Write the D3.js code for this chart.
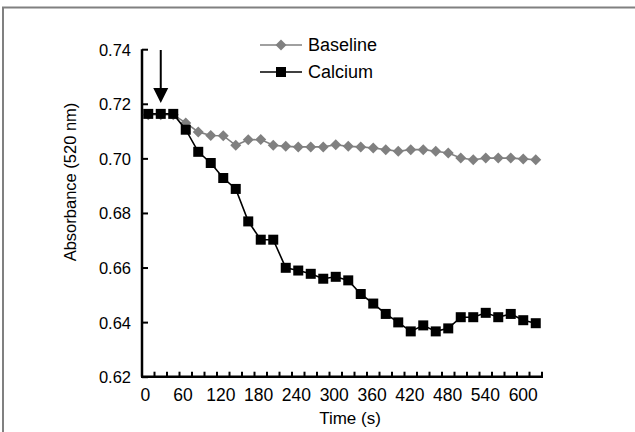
<!DOCTYPE html>
<html><head><meta charset="utf-8">
<script src="https://cdn.jsdelivr.net/npm/d3@7"></script>
<style>body{margin:0;background:#fff}svg{display:block}text{font-family:Arial,"Liberation Sans",sans-serif;fill:#000}</style>
</head><body><svg id="c" width="635" height="432"></svg>
<script>
const times = d3.range(0, 640, 20);
const xTickLabels = [0, 60, 120, 180, 240, 300, 360, 420, 480, 540, 600];
const yTicks = [0.62, 0.64, 0.66, 0.68, 0.70, 0.72, 0.74];
const baseline = [0.716,0.716,0.716,0.713,0.7097,0.7084,0.7083,0.7048,0.7068,0.7069,0.7048,0.7044,0.7042,0.7042,0.7042,0.7050,0.7044,0.7042,0.7038,0.7032,0.7026,0.7032,0.7032,0.7026,0.7020,0.7001,0.6995,0.7001,0.7001,0.7001,0.6998,0.6995];
const calcium = [0.7163,0.7163,0.7163,0.7105,0.7024,0.6983,0.6928,0.6888,0.6769,0.6702,0.6702,0.6599,0.6589,0.6577,0.6559,0.6566,0.6553,0.6503,0.6468,0.6430,0.6399,0.6366,0.6388,0.6366,0.6377,0.6418,0.6418,0.6434,0.6418,0.6430,0.6407,0.6396];
const seriesNames = ["Baseline", "Calcium"];
const arrowTime = 20;

const svg = d3.select("#c");
svg.append("rect").attr("x",3).attr("y",7.5).attr("width",700).attr("height",500)
  .attr("fill","none").attr("stroke","#808080").attr("stroke-width",2);

const x = d3.scaleBand().domain(times).range([142, 542]);
const xc = t => x(t) + x.bandwidth()/2;
const y = d3.scaleLinear().domain([0.62, 0.74]).range([376.7, 49.2]);

// y axis
const yAxis = d3.axisRight(y).tickValues(yTicks).tickSize(6).tickFormat(d3.format(".2f"));
const gy = svg.append("g").attr("transform","translate(142,0)").call(yAxis);
gy.select(".domain").attr("d", `M0,${y(0.74)}V${y(0.62)}`).attr("stroke","#000").attr("stroke-width",2.5);
gy.selectAll(".tick line").attr("stroke","#000").attr("stroke-width",2);
gy.selectAll(".tick text").attr("x",-11).attr("text-anchor","end").style("font-size","16.5px").attr("dy","0.36em");

// x axis: category axis with inside ticks at boundaries
const gx = svg.append("g");
gx.append("line").attr("x1",141).attr("x2",543).attr("y1",y(0.62)).attr("y2",y(0.62)).attr("stroke","#000").attr("stroke-width",2.5);
const bounds = times.map(t => x(t)).concat([x.range()[1]]);
gx.selectAll("line.tk").data(bounds).join("line").attr("class","tk")
  .attr("x1",d=>d).attr("x2",d=>d).attr("y1",y(0.62)).attr("y2",y(0.62)-5).attr("stroke","#000").attr("stroke-width",2);
gx.selectAll("text").data(xTickLabels).join("text")
  .attr("x", (d,i) => xc(d) - 3 * (1 - i/10)).attr("y", 401).attr("text-anchor","middle").style("font-size","17.5px").text(d=>d);

svg.append("text").attr("x",350).attr("y",424).attr("text-anchor","middle").style("font-size","17px").text("Time (s)");
svg.append("text").attr("transform","translate(76,182) rotate(-90)").attr("text-anchor","middle").style("font-size","16.5px").text("Absorbance (520 nm)");

// lines
const line = d3.line().x((d,i)=>xc(times[i])).y(d=>y(d));
svg.append("path").datum(baseline).attr("d",line).attr("fill","none").attr("stroke","#808080").attr("stroke-width",1.6);
const diamond = (cx, cy, r) => `M${cx},${cy-r}L${cx+r},${cy}L${cx},${cy+r}L${cx-r},${cy}Z`;
svg.selectAll("path.bd").data(baseline).join("path").attr("class","bd")
  .attr("d",(d,i)=>diamond(xc(times[i]), y(d), 5.5)).attr("fill","#808080");

svg.append("path").datum(calcium).attr("d",line).attr("fill","none").attr("stroke","#000").attr("stroke-width",1.6);
svg.selectAll("rect.cs").data(calcium).join("rect").attr("class","cs")
  .attr("x",(d,i)=>xc(times[i])-5).attr("y",d=>y(d)-5).attr("width",10).attr("height",10).attr("fill","#000");

// arrow
const ax = xc(arrowTime);
svg.append("line").attr("x1",ax).attr("x2",ax).attr("y1",50).attr("y2",90).attr("stroke","#000").attr("stroke-width",2);
svg.append("path").attr("d",`M${ax-7.5},88L${ax+7.5},88L${ax},103Z`).attr("fill","#000");

// legend
const lg = svg.append("g");
const ly = [45, 72];
lg.append("line").attr("x1",260).attr("x2",302).attr("y1",ly[0]).attr("y2",ly[0]).attr("stroke","#808080").attr("stroke-width",1.6);
lg.append("path").attr("d",diamond(281,ly[0],5.5)).attr("fill","#808080");
lg.append("line").attr("x1",260).attr("x2",302).attr("y1",ly[1]).attr("y2",ly[1]).attr("stroke","#000").attr("stroke-width",1.6);
lg.append("rect").attr("x",281-5).attr("y",ly[1]-5).attr("width",10).attr("height",10).attr("fill","#000");
lg.selectAll("text").data(seriesNames).join("text").attr("x",308).attr("y",(d,i)=>ly[i]).attr("dy","0.36em")
  .style("font-size","18px").text(d=>d);
</script></body></html>
